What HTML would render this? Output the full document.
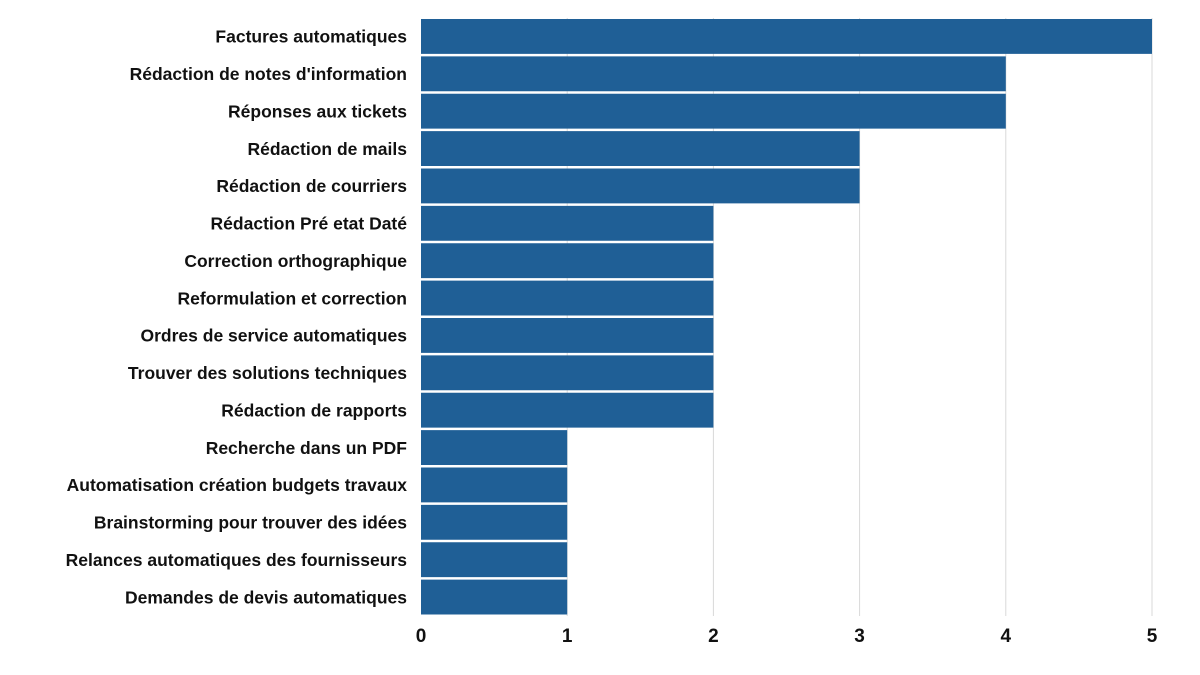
<!DOCTYPE html>
<html><head><meta charset="utf-8"><style>
body{margin:0;background:#fff;}
svg text{font-family:"Liberation Sans",sans-serif;font-weight:bold;fill:#111;}
</style></head><body>
<svg id="chart" width="1200" height="670" xmlns="http://www.w3.org/2000/svg"></svg>
<script>
const categories=["Factures automatiques","Rédaction de notes d'information","Réponses aux tickets","Rédaction de mails","Rédaction de courriers","Rédaction Pré etat Daté","Correction orthographique","Reformulation et correction","Ordres de service automatiques","Trouver des solutions techniques","Rédaction de rapports","Recherche dans un PDF","Automatisation création budgets travaux","Brainstorming pour trouver des idées","Relances automatiques des fournisseurs","Demandes de devis automatiques"];
const values=[5,4,4,3,3,2,2,2,2,2,2,1,1,1,1,1];
const ticks=[0,1,2,3,4,5];
const svgEl=document.getElementById('chart');
const NS="http://www.w3.org/2000/svg";
const xStart=421,xEnd=1152,yTop=18,yBottom=616;
const xs=v=>xStart+(xEnd-xStart)*v/5;
const pitch=(yBottom-yTop)/categories.length;
const ys=i=>yTop+i*pitch;
function mk(t,a){const e=document.createElementNS(NS,t);for(const k in a)e.setAttribute(k,a[k]);svgEl.appendChild(e);return e;}
ticks.forEach(t=>{
  if(t>0){const g=mk('line',{x1:xs(t),x2:xs(t),y1:yTop,y2:yBottom,stroke:'#d9d9d9','stroke-width':1});
  
  }
  const l=mk('text',{x:xs(t),y:642,'text-anchor':'middle','font-size':19});
  l.textContent=t;
  
  
});
categories.forEach((c,i)=>{
  const r=mk('rect',{x:xStart,y:ys(i)+1,width:xs(values[i])-xStart,height:pitch-2.5,fill:'#1f5f96'});
  
  
  const t=mk('text',{x:407,y:ys(i)+pitch/2+6,'text-anchor':'end','font-size':17.5});
  t.textContent=c;
  
  
});
</script>
</body></html>
